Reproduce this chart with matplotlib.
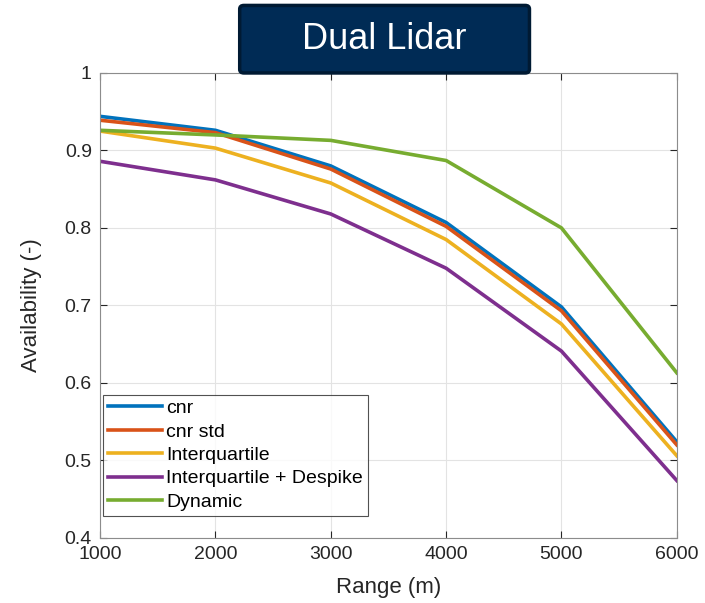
import numpy as np
import matplotlib.pyplot as plt
from matplotlib.patches import FancyBboxPatch

plt.rcParams['font.family'] = ['Liberation Sans', 'DejaVu Sans']

ranges = [1000, 2000, 3000, 4000, 5000, 6000]
cnr = [0.944, 0.926, 0.880, 0.807, 0.698, 0.524]
cnr_std = [0.939, 0.923, 0.876, 0.802, 0.693, 0.520]
interquartile = [0.925, 0.903, 0.858, 0.785, 0.676, 0.506]
despike = [0.886, 0.862, 0.818, 0.748, 0.641, 0.474]
dynamic = [0.926, 0.920, 0.913, 0.887, 0.800, 0.613]

labels = ['cnr', 'cnr std', 'Interquartile', 'Interquartile + Despike', 'Dynamic']
colors = ['#0072BD', '#D95319', '#EDB120', '#7E2F8E', '#77AC30']

fig = plt.figure(figsize=(7.05, 6.03), dpi=100)
ax = fig.add_axes([0.142, 0.108, 0.818, 0.771])

for ys, lab, c in zip([cnr, cnr_std, interquartile, despike, dynamic], labels, colors):
    ax.plot(ranges, ys, color=c, lw=2.6, label=lab)

ax.set_xlim(1000, 6000)
ax.set_ylim(0.4, 1.0)
ax.set_xticks(ranges)
ax.set_yticks(np.arange(0.4, 1.01, 0.1))
ax.set_yticklabels(['0.4', '0.5', '0.6', '0.7', '0.8', '0.9', '1'])
ax.grid(True, color='#e3e3e3', lw=0.8)
ax.set_axisbelow(True)
ax.tick_params(direction='in', top=True, right=True, labelsize=14, colors='#262626', length=5, pad=6)
for s in ax.spines.values():
    s.set_color('#8c8c8c')
ax.set_xlabel('Range (m)', fontsize=16, color='#262626', labelpad=10)
ax.set_ylabel('Availability (-)', fontsize=16, color='#262626', labelpad=16)

leg = ax.legend(loc='lower left', bbox_to_anchor=(-0.005, 0.035), fontsize=14, frameon=True,
                fancybox=False, edgecolor='#262626', handlelength=2.8, handletextpad=0.2,
                borderaxespad=0.3, labelspacing=0.3, borderpad=0.25)
leg.get_frame().set_linewidth(0.8)

box = FancyBboxPatch((0.340, 0.879), 0.411, 0.112, boxstyle='round,pad=0,rounding_size=0.006',
                     transform=fig.transFigure, facecolor='#002B55', edgecolor='#001A33',
                     linewidth=2.5, zorder=5)
fig.patches.append(box)
fig.text(0.545, 0.935, 'Dual Lidar', fontsize=26, color='white', ha='center', va='center', zorder=6)

fig.savefig('out.png', dpi=100)
